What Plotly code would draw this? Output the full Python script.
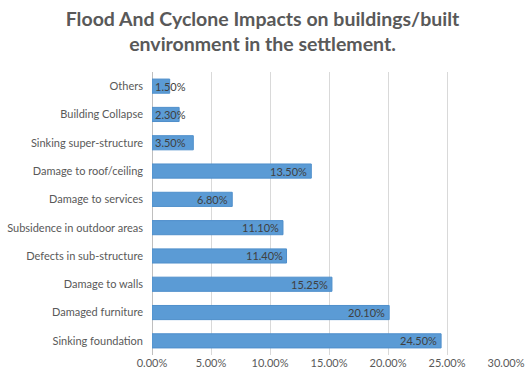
import plotly.graph_objects as go

categories = ["Sinking foundation", "Damaged furniture", "Damage to walls",
              "Defects in sub-structure", "Subsidence in outdoor areas",
              "Damage to services", "Damage to roof/ceiling",
              "Sinking super-structure", "Building Collapse", "Others"]
values = [24.5, 20.1, 15.25, 11.4, 11.1, 6.8, 13.5, 3.5, 2.3, 1.5]
labels = ["24.50%", "20.10%", "15.25%", "11.40%", "11.10%", "6.80%",
          "13.50%", "3.50%", "2.30%", "1.50%"]
tick_vals = [0, 5, 10, 15, 20, 25, 30]
tick_text = ["0.00%", "5.00%", "10.00%", "15.00%", "20.00%", "25.00%", "30.00%"]

FONT = "Lato"
fig = go.Figure()
fig.add_trace(go.Bar(
    x=values, y=categories, orientation="h",
    marker=dict(color="#5B9BD5", line=dict(color="#4F8FCB", width=1)),
    width=0.5, hoverinfo="skip",
))

for v, c, t in zip(values, categories, labels):
    fits = v >= 5
    fig.add_annotation(
        x=v if fits else 0, y=c, text=t, showarrow=False,
        xanchor="right" if fits else "left",
        xshift=-2 if fits else 1,
        font=dict(family=FONT, size=11, color="#404040"),
    )

fig.update_layout(
    width=525, height=380,
    margin=dict(l=152, r=19, t=72, b=25),
    paper_bgcolor="white", plot_bgcolor="white",
    showlegend=False,
    title=dict(
        text="<b>Flood And Cyclone Impacts on buildings/built<br>environment in the settlement.</b>",
        x=0.5, xanchor="center", xref="container",
        y=0.932, yanchor="middle", yref="container",
        font=dict(family=FONT, size=19.5, color="#595959"),
    ),
    xaxis=dict(
        range=[0, 30], tickvals=tick_vals, ticktext=tick_text,
        showgrid=True, gridcolor="#D9D9D9", gridwidth=1,
        zeroline=True, zerolinecolor="#BFBFBF", zerolinewidth=1,
        showline=False, ticks="", automargin=False,
        tickfont=dict(family=FONT, size=11, color="#595959"),
        fixedrange=True,
    ),
    yaxis=dict(
        categoryorder="array", categoryarray=categories,
        showgrid=False, zeroline=False, showline=False, ticks="",
        ticklabelstandoff=8, automargin=False,
        tickfont=dict(family=FONT, size=11, color="#595959"),
        fixedrange=True,
    ),
)

fig.write_html("out.html")
